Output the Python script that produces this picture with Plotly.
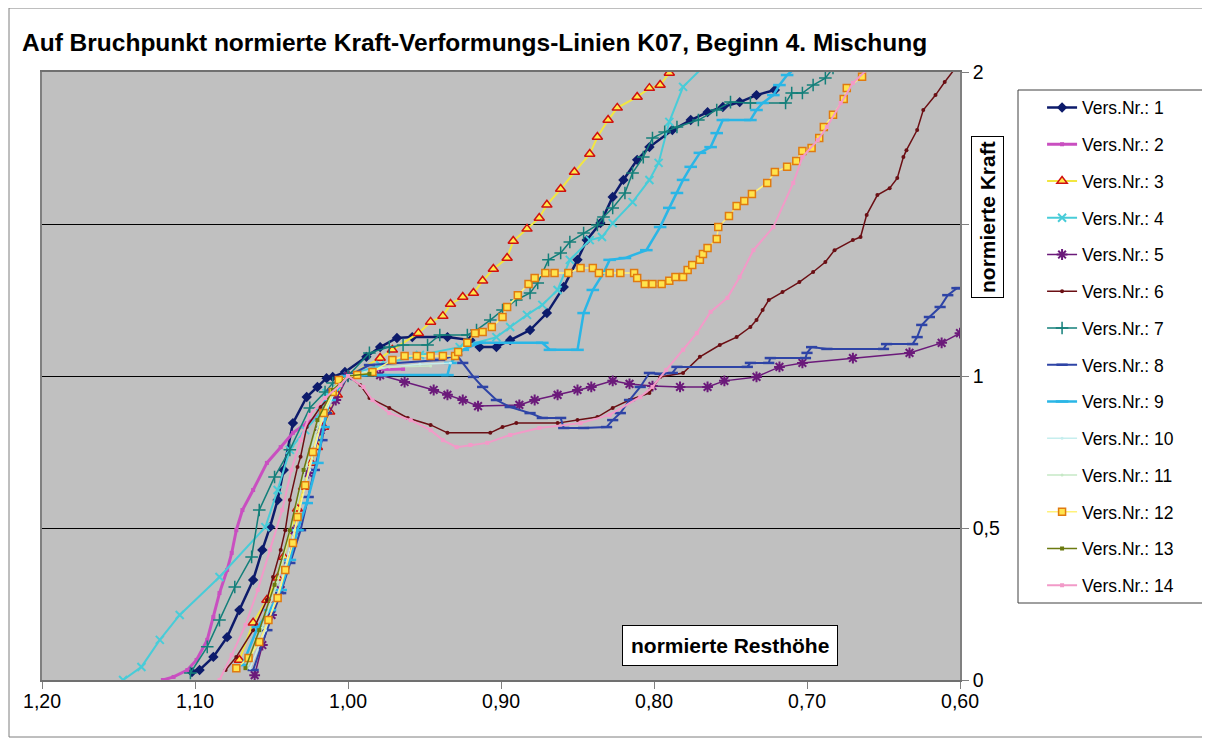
import plotly.graph_objects as go

# Vers.Nr. 1 .. 14, normierte Resthoehe (x) / normierte Kraft (y)
vers1_x = [1.102, 1.097, 1.088, 1.079, 1.071, 1.062, 1.056, 1.051, 1.046, 1.042, 1.036, 1.027, 1.020, 1.014, 1.010,
           1.002, 0.988, 0.979, 0.968, 0.958, 0.935, 0.920, 0.914, 0.903, 0.894, 0.881, 0.870, 0.859, 0.850, 0.844,
           0.835, 0.827, 0.820, 0.811, 0.803, 0.788, 0.776, 0.765, 0.755, 0.744, 0.733, 0.721]
vers1_y = [0.026, 0.033, 0.076, 0.141, 0.230, 0.329, 0.428, 0.503, 0.592, 0.691, 0.845, 0.931, 0.964, 0.993, 0.997,
           1.013, 1.063, 1.095, 1.125, 1.128, 1.128, 1.118, 1.095, 1.095, 1.118, 1.151, 1.207, 1.293, 1.382, 1.447,
           1.503, 1.589, 1.645, 1.711, 1.753, 1.809, 1.842, 1.868, 1.885, 1.901, 1.924, 1.941]

vers2_x = [1.121, 1.114, 1.105, 1.099, 1.092, 1.088, 1.084, 1.079, 1.076, 1.073, 1.069, 1.062, 1.053, 1.044, 1.036,
           1.027, 1.020, 1.012, 1.005, 1.000, 0.986, 0.964]
vers2_y = [0.000, 0.010, 0.033, 0.066, 0.132, 0.207, 0.286, 0.362, 0.418, 0.493, 0.559, 0.625, 0.714, 0.766, 0.813,
           0.845, 0.865, 0.928, 0.980, 1.003, 1.020, 1.023]

vers3_x = [1.071, 1.062, 1.053, 1.046, 1.042, 1.033, 1.029, 1.024, 1.020, 1.016, 1.012, 1.007, 1.000, 0.979, 0.971,
           0.954, 0.946, 0.938, 0.933, 0.925, 0.918, 0.912, 0.905, 0.896, 0.892, 0.883, 0.875, 0.870, 0.861, 0.852,
           0.842, 0.837, 0.830, 0.824, 0.811, 0.803, 0.796, 0.790, 0.784]
vers3_y = [0.066, 0.188, 0.263, 0.336, 0.405, 0.563, 0.635, 0.714, 0.766, 0.832, 0.882, 0.938, 1.000, 1.059, 1.086,
           1.141, 1.178, 1.197, 1.237, 1.260, 1.273, 1.313, 1.352, 1.388, 1.444, 1.484, 1.520, 1.563, 1.615, 1.671,
           1.730, 1.786, 1.842, 1.882, 1.918, 1.947, 1.957, 1.997, 2.023]

vers4_x = [1.147, 1.135, 1.123, 1.110, 1.084, 1.054, 1.046, 1.038, 1.028, 1.018, 1.014, 1.000, 0.979, 0.953, 0.927,
           0.903, 0.894, 0.883, 0.873, 0.863, 0.855, 0.842, 0.834, 0.827, 0.814, 0.803, 0.797, 0.790, 0.781, 0.768]
vers4_y = [0.000, 0.043, 0.132, 0.214, 0.339, 0.503, 0.625, 0.757, 0.822, 0.878, 0.944, 1.000, 1.036, 1.069, 1.095,
           1.128, 1.161, 1.201, 1.234, 1.283, 1.382, 1.447, 1.457, 1.503, 1.572, 1.645, 1.701, 1.836, 1.951, 2.016]

vers5_x = [1.061, 1.056, 1.050, 1.044, 1.035, 1.026, 1.018, 1.008, 1.000, 0.979, 0.963, 0.944, 0.935, 0.925, 0.915,
           0.888, 0.878, 0.863, 0.850, 0.841, 0.827, 0.816, 0.801, 0.783, 0.765, 0.754, 0.733, 0.718, 0.703, 0.670,
           0.633, 0.612, 0.600]
vers5_y = [0.016, 0.115, 0.214, 0.296, 0.493, 0.681, 0.822, 0.921, 1.000, 1.003, 0.980, 0.954, 0.938, 0.921, 0.901,
           0.905, 0.921, 0.938, 0.954, 0.964, 0.984, 0.974, 0.967, 0.964, 0.964, 0.984, 0.997, 1.030, 1.043, 1.059,
           1.076, 1.109, 1.141]

vers6_x = [1.080, 1.073, 1.062, 1.053, 1.049, 1.044, 1.041, 1.038, 1.033, 1.031, 1.027, 1.018, 1.008, 1.000, 0.992,
           0.986, 0.973, 0.961, 0.946, 0.935, 0.907, 0.899, 0.890, 0.863, 0.850, 0.837, 0.827, 0.816, 0.803, 0.796,
           0.781, 0.770, 0.757, 0.746, 0.737, 0.733, 0.729, 0.725, 0.716, 0.705, 0.696, 0.688, 0.682, 0.670, 0.665,
           0.661, 0.654, 0.646, 0.641, 0.637, 0.635, 0.628, 0.624, 0.616, 0.610, 0.603]
vers6_y = [0.033, 0.076, 0.164, 0.263, 0.339, 0.428, 0.493, 0.592, 0.701, 0.734, 0.832, 0.898, 0.954, 1.000, 0.970,
           0.928, 0.895, 0.862, 0.839, 0.813, 0.813, 0.832, 0.845, 0.845, 0.855, 0.865, 0.895, 0.921, 0.944, 0.997,
           1.010, 1.063, 1.102, 1.128, 1.161, 1.184, 1.217, 1.250, 1.276, 1.309, 1.342, 1.375, 1.414, 1.447, 1.457,
           1.530, 1.595, 1.618, 1.651, 1.720, 1.743, 1.809, 1.875, 1.924, 1.967, 2.013]

vers7_x = [1.103, 1.092, 1.084, 1.074, 1.063, 1.058, 1.048, 1.038, 1.025, 1.015, 1.010, 1.000, 0.986, 0.973, 0.964,
           0.948, 0.940, 0.922, 0.916, 0.907, 0.899, 0.890, 0.881, 0.876, 0.869, 0.861, 0.855, 0.846, 0.837, 0.833,
           0.827, 0.819, 0.814, 0.807, 0.801, 0.793, 0.785, 0.771, 0.759, 0.750, 0.737, 0.714, 0.710, 0.703, 0.696,
           0.688, 0.683]
vers7_y = [0.023, 0.109, 0.197, 0.306, 0.405, 0.559, 0.668, 0.757, 0.895, 0.947, 0.977, 1.000, 1.076, 1.095, 1.102,
           1.102, 1.135, 1.135, 1.151, 1.184, 1.217, 1.250, 1.273, 1.306, 1.382, 1.405, 1.441, 1.470, 1.497, 1.523,
           1.553, 1.602, 1.668, 1.720, 1.783, 1.803, 1.819, 1.842, 1.875, 1.901, 1.898, 1.898, 1.931, 1.931, 1.957,
           1.980, 2.013]

vers8_x = [1.062, 1.053, 1.044, 1.038, 1.031, 1.026, 1.022, 1.017, 1.014, 1.010, 1.000, 0.986, 0.940, 0.929, 0.925,
           0.918, 0.912, 0.903, 0.894, 0.881, 0.873, 0.861, 0.859, 0.846, 0.831, 0.827, 0.822, 0.816, 0.809, 0.803,
           0.796, 0.788, 0.785, 0.739, 0.737, 0.725, 0.724, 0.701, 0.700, 0.697, 0.687, 0.650, 0.648, 0.631, 0.628,
           0.625, 0.620, 0.613, 0.608, 0.602, 0.600]
vers8_y = [0.033, 0.164, 0.286, 0.385, 0.493, 0.602, 0.691, 0.789, 0.878, 0.954, 1.000, 1.036, 1.053, 1.069, 1.043,
           0.997, 0.964, 0.921, 0.898, 0.878, 0.862, 0.862, 0.829, 0.829, 0.832, 0.855, 0.878, 0.921, 0.964, 1.010,
           1.007, 1.010, 1.030, 1.030, 1.043, 1.043, 1.059, 1.059, 1.076, 1.095, 1.089, 1.089, 1.105, 1.105, 1.128,
           1.168, 1.194, 1.227, 1.266, 1.289, 1.289]

vers9_x = [1.069, 1.059, 1.051, 1.044, 1.038, 1.033, 1.027, 1.020, 1.016, 1.012, 1.000, 0.979, 0.935, 0.933, 0.925,
           0.914, 0.873, 0.868, 0.850, 0.846, 0.840, 0.833, 0.829, 0.819, 0.805, 0.796, 0.790, 0.785, 0.781, 0.776,
           0.770, 0.763, 0.759, 0.755, 0.737, 0.733, 0.729, 0.722, 0.718, 0.713, 0.707]
vers9_y = [0.049, 0.174, 0.230, 0.296, 0.395, 0.493, 0.582, 0.714, 0.832, 0.921, 1.000, 1.003, 1.003, 1.043, 1.086,
           1.109, 1.109, 1.086, 1.086, 1.207, 1.283, 1.339, 1.382, 1.388, 1.414, 1.490, 1.553, 1.602, 1.645, 1.688,
           1.734, 1.753, 1.799, 1.842, 1.842, 1.875, 1.898, 1.924, 1.957, 1.990, 2.016]

vers10_x = [1.064, 1.054, 1.044, 1.035, 1.025, 1.017, 1.008, 1.000, 0.979, 0.953, 0.933]
vers10_y = [0.039, 0.164, 0.313, 0.493, 0.691, 0.855, 0.954, 1.000, 1.026, 1.039, 1.043]

vers11_x = [1.066, 1.056, 1.046, 1.037, 1.027, 1.018, 1.009, 1.000, 0.973, 0.946]
vers11_y = [0.039, 0.171, 0.322, 0.510, 0.707, 0.862, 0.961, 1.000, 1.030, 1.033]

vers12_x = [1.073, 1.065, 1.058, 1.052, 1.046, 1.041, 1.036, 1.033, 1.028, 1.023, 1.016, 1.010, 1.006, 0.994, 0.984,
            0.971, 0.963, 0.955, 0.946, 0.938, 0.930, 0.928, 0.922, 0.917, 0.912, 0.906, 0.899, 0.896, 0.889, 0.882,
            0.878, 0.871, 0.865, 0.856, 0.848, 0.840, 0.836, 0.829, 0.822, 0.813, 0.811, 0.806, 0.801, 0.795, 0.790,
            0.786, 0.781, 0.778, 0.775, 0.770, 0.768, 0.765, 0.759, 0.758, 0.751, 0.746, 0.741, 0.736, 0.726, 0.721,
            0.713, 0.707, 0.703, 0.697, 0.692, 0.689, 0.683, 0.676, 0.674, 0.664]
vers12_y = [0.039, 0.072, 0.125, 0.197, 0.270, 0.362, 0.451, 0.536, 0.641, 0.750, 0.878, 0.947, 0.987, 1.003, 1.013,
            1.053, 1.066, 1.066, 1.066, 1.066, 1.066, 1.079, 1.109, 1.141, 1.145, 1.161, 1.194, 1.227, 1.266, 1.303,
            1.322, 1.339, 1.339, 1.339, 1.355, 1.355, 1.339, 1.339, 1.339, 1.339, 1.322, 1.303, 1.303, 1.303, 1.313,
            1.326, 1.326, 1.349, 1.365, 1.382, 1.401, 1.421, 1.451, 1.490, 1.526, 1.559, 1.576, 1.599, 1.635, 1.671,
            1.688, 1.707, 1.740, 1.750, 1.783, 1.819, 1.859, 1.911, 1.947, 1.984]

vers13_x = [1.067, 1.058, 1.048, 1.038, 1.029, 1.020, 1.010, 1.000, 0.986]
vers13_y = [0.039, 0.164, 0.313, 0.493, 0.691, 0.855, 0.954, 1.000, 1.007]

vers14_x = [1.084, 1.076, 1.067, 1.059, 1.051, 1.043, 1.037, 1.031, 1.025, 1.015, 1.005, 1.000, 0.990, 0.984, 0.973,
            0.959, 0.946, 0.938, 0.929, 0.920, 0.909, 0.894, 0.875, 0.848, 0.829, 0.809, 0.801, 0.792, 0.781, 0.772,
            0.763, 0.752, 0.744, 0.735, 0.722, 0.709, 0.703, 0.693, 0.687, 0.678, 0.670, 0.659]
vers14_y = [0.000, 0.082, 0.181, 0.296, 0.428, 0.559, 0.691, 0.789, 0.872, 0.928, 0.970, 1.000, 0.964, 0.921, 0.878,
            0.855, 0.822, 0.789, 0.766, 0.773, 0.780, 0.806, 0.829, 0.845, 0.872, 0.931, 0.964, 1.020, 1.086, 1.141,
            1.211, 1.257, 1.326, 1.414, 1.490, 1.635, 1.720, 1.776, 1.819, 1.898, 1.964, 2.016]

x_ticks = [1.2, 1.1, 1.0, 0.9, 0.8, 0.7, 0.6]
y_ticks = [0, 0.5, 1, 1.5, 2]

series = [
    (vers1_x, vers1_y, "#0D1B6B", 2.5, dict(symbol="diamond", size=8, color="#0D1B6B")),
    (vers2_x, vers2_y, "#C94FC0", 3, dict(symbol="square", size=4, color="#C94FC0")),
    (vers3_x, vers3_y, "#F2E640", 2, dict(symbol="triangle-up", size=9, color="#FFE94A",
                                         line=dict(color="#D01010", width=1.5))),
    (vers4_x, vers4_y, "#48CCD8", 2, dict(symbol="x-thin", size=8, line=dict(color="#48CCD8", width=2))),
    (vers5_x, vers5_y, "#6B1A7A", 1.5, dict(symbol="asterisk-open", size=9, line=dict(color="#6B1A7A", width=2))),
    (vers6_x, vers6_y, "#6B0F14", 1.5, dict(symbol="circle", size=4, color="#6B0F14")),
    (vers7_x, vers7_y, "#137F7A", 1.5, dict(symbol="cross-thin", size=9, line=dict(color="#137F7A", width=1.5))),
    (vers8_x, vers8_y, "#2E44A6", 2, dict(symbol="line-ew", size=8, line=dict(color="#2E44A6", width=2.5))),
    (vers9_x, vers9_y, "#2AB6E6", 2.5, dict(symbol="line-ew", size=9, line=dict(color="#2AB6E6", width=2.5))),
    (vers10_x, vers10_y, "#C6EEEE", 1.5, dict(symbol="circle", size=3, color="#C6EEEE")),
    (vers11_x, vers11_y, "#C6E8C6", 1.5, dict(symbol="circle", size=3, color="#C6E8C6")),
    (vers12_x, vers12_y, "#FFF27A", 1.5, dict(symbol="square", size=7, color="#FFE44D",
                                            line=dict(color="#E07A10", width=1.5))),
    (vers13_x, vers13_y, "#6B7A10", 1.5, dict(symbol="square", size=4, color="#6B7A10")),
    (vers14_x, vers14_y, "#F29AC8", 2, dict(symbol="square", size=4, color="#F29AC8")),
]

fig = go.Figure()
for i, (xs, ys, col, lw, mk) in enumerate(series):
    fig.add_trace(go.Scatter(
        x=xs, y=ys, mode="lines+markers", name=f"Vers.Nr.: {i + 1}",
        line=dict(color=col, width=lw), marker=mk, legendgroup=str(i + 1),
    ))

# page body has an 8px margin, so the figure is a bit smaller than the window
fig.update_layout(
    width=1202, height=734,
    margin=dict(l=34, r=250, t=64, b=62),
    paper_bgcolor="white", plot_bgcolor="#C0C0C0",
    separators=",.",
    font=dict(family="Liberation Sans, Arial", size=19.5, color="black"),
    title=dict(text="<b>Auf Bruchpunkt normierte Kraft-Verformungs-Linien K07, Beginn 4. Mischung</b>",
               x=14 / 1202, xanchor="left", xref="container",
               y=1 - 34 / 734, yanchor="middle", yref="container",
               font=dict(size=24.5, color="black")),
    legend=dict(x=1.0894, xanchor="left", y=0.971, yanchor="top",
                bgcolor="rgba(0,0,0,0)", borderwidth=0,
                font=dict(size=17.5), tracegroupgap=11),
    showlegend=True,
)

fig.update_xaxes(range=[1.2, 0.6], tickvals=x_ticks, tickformat=".2f",
                 showgrid=False, zeroline=False, showline=True, linecolor="#707070", linewidth=1.5,
                 mirror=True, ticks="outside", ticklen=7, tickcolor="#808080", ticklabelstandoff=-4)
fig.update_yaxes(range=[0, 2], tickvals=y_ticks, side="right",
                 showgrid=True, gridcolor="black", gridwidth=1, zeroline=False,
                 showline=True, linecolor="#808080", linewidth=1.5, mirror=True,
                 ticks="outside", ticklen=7, tickcolor="#808080")

# outer chart frame and legend box
fig.add_shape(type="rect", xref="paper", yref="paper",
              x0=-33 / 918, x1=1163 / 918, y0=-57 / 608, y1=672 / 608,
              line=dict(color="#7F7F7F", width=1), layer="below")
fig.add_shape(type="rect", xref="paper", yref="paper",
              x0=976 / 918, x1=1161 / 918, y0=77 / 608, y1=590 / 608,
              line=dict(color="#404040", width=1), fillcolor="white", layer="below")

fig.add_annotation(text="<b>normierte Kraft</b>", xref="paper", yref="paper",
                   x=945 / 918, y=463 / 608, xanchor="center", yanchor="middle",
                   textangle=-90, showarrow=False,
                   font=dict(size=21), bgcolor="white", bordercolor="black", borderwidth=1, borderpad=4)
fig.add_annotation(text="<b>normierte Resthöhe</b>", xref="paper", yref="paper",
                   x=688 / 918, y=35 / 608, xanchor="center", yanchor="middle", showarrow=False,
                   font=dict(size=21), bgcolor="white", bordercolor="black", borderwidth=1, borderpad=8)

fig.write_html("out.html")
